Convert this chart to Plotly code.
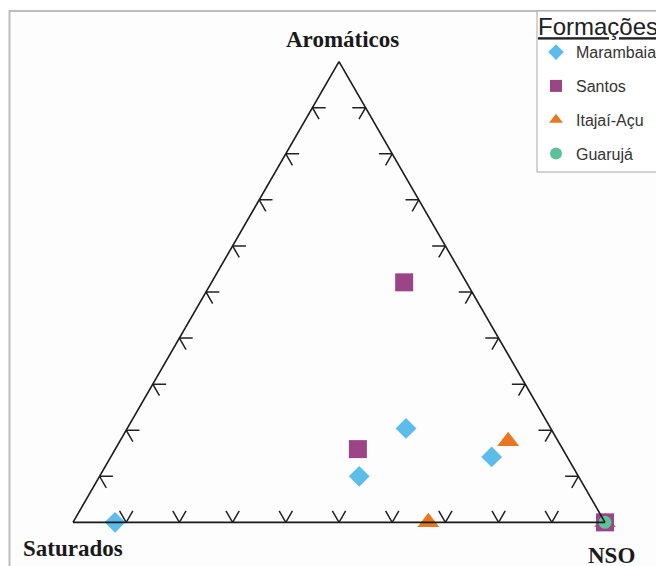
import plotly.graph_objects as go

OFF = 8  # page body margin in the browser
W, H = 664 - OFF, 566 - OFF


def px(x):
    return (x - OFF) / W


def py(y):
    return 1 - (y - OFF) / H


# ---- data (percent: a = Aromáticos, b = Saturados, c = NSO) ----
marambaia_a = [0.0, 20.4, 10.0, 14.2]
marambaia_b = [92.1, 27.2, 41.2, 14.2]
marambaia_c = [7.9, 52.4, 48.8, 71.6]

santos_a = [52.1, 15.9, 0.0]
santos_b = [11.7, 38.5, 0.0]
santos_c = [36.2, 45.6, 100.0]

itajai_a = [17.6, 0.0, 0.0]
itajai_b = [9.4, 33.2, 0.0]
itajai_c = [73.0, 66.8, 100.0]

guaruja_a = [0.0]
guaruja_b = [0.0]
guaruja_c = [100.0]

TICKS = [10, 20, 30, 40, 50, 60, 70, 80, 90]
TICK_LEN = 2.5

fig = go.Figure()


# V-shaped tick marks on the three edges, built from tick values
def add_ticks(kind):
    A, B, C = [], [], []
    L = TICK_LEN
    for t in TICKS:
        if kind == "left":      # c = 0
            pts = [(t, 100 - t - L, L), (t, 100 - t, 0), (t - L, 100 - t, L)]
        elif kind == "right":   # b = 0
            pts = [(t, L, 100 - t - L), (t, 0, 100 - t), (t - L, L, 100 - t)]
        else:                   # bottom, a = 0
            pts = [(L, 100 - t, t - L), (0, 100 - t, t), (L, 100 - t - L, t)]
        for p in pts:
            A.append(p[0]); B.append(p[1]); C.append(p[2])
        A.append(None); B.append(None); C.append(None)
    fig.add_trace(go.Scatterternary(
        a=A, b=B, c=C, mode="lines", line=dict(color="#222222", width=1.5),
        showlegend=False, hoverinfo="skip", cliponaxis=False))


for k in ("left", "right", "bottom"):
    add_ticks(k)

fig.add_trace(go.Scatterternary(
    a=marambaia_a, b=marambaia_b, c=marambaia_c, mode="markers", name="Marambaia",
    marker=dict(symbol="diamond", size=16, color="#5CBDEB"),
    legendgroup="g1", legendrank=1, cliponaxis=False))
fig.add_trace(go.Scatterternary(
    a=itajai_a, b=itajai_b, c=itajai_c, mode="markers", name="Itajaí-Açu",
    marker=dict(symbol="triangle-up", size=19, color="#E87722"),
    legendgroup="g3", legendrank=3, cliponaxis=False))
fig.add_trace(go.Scatterternary(
    a=santos_a, b=santos_b, c=santos_c, mode="markers", name="Santos",
    marker=dict(symbol="square", size=18, color="#9B4586"),
    legendgroup="g2", legendrank=2, cliponaxis=False))
fig.add_trace(go.Scatterternary(
    a=guaruja_a, b=guaruja_b, c=guaruja_c, mode="markers", name="Guarujá",
    marker=dict(symbol="circle", size=13, color="#5DC29B"),
    legendgroup="g4", legendrank=4, cliponaxis=False))

axis_style = dict(showline=True, linecolor="#1a1a1a", linewidth=1.6,
                  showgrid=False, ticks="", showticklabels=False, title=dict(text=""))

# triangle: base from x=73 to 605 at y=522 (reference pixels), centred in domain
cx, cy = 339, 292
fig.update_layout(
    width=W, height=H,
    margin=dict(l=0, r=0, t=0, b=0, autoexpand=False),
    paper_bgcolor="#FDFDFD",
    ternary=dict(
        sum=100,
        bgcolor="rgba(0,0,0,0)",
        domain=dict(x=[px(cx - 266), px(cx + 266)], y=[py(cy + 240), py(cy - 240)]),
        aaxis=axis_style, baxis=axis_style, caxis=axis_style,
    ),
    legend=dict(
        x=px(536), y=py(4), xanchor="left", yanchor="top",
        bgcolor="rgba(0,0,0,0)", borderwidth=0,
        font=dict(family="Liberation Sans, Arial, sans-serif", size=16, color="#333333"),
        title=dict(text="<u>Formações</u>",
                   font=dict(family="Liberation Sans, Arial, sans-serif", size=24, color="#222222")),
        itemsizing="constant", traceorder="grouped", tracegroupgap=10,
    ),
    shapes=[
        dict(type="rect", xref="paper", yref="paper", layer="below",
             x0=px(9.5), x1=1.1, y0=-0.1, y1=py(11),
             line=dict(color="#BDBDBD", width=2), fillcolor="rgba(0,0,0,0)"),
        dict(type="rect", xref="paper", yref="paper", layer="below",
             x0=px(537), x1=1.1, y0=py(172), y1=py(11),
             line=dict(color="#A8A8A8", width=1), fillcolor="white"),
    ],
)

serif = "Liberation Serif, Times New Roman, serif"
for txt, x, y in [("Aromáticos", 343, 39), ("Saturados", 73, 548), ("NSO", 611.5, 555)]:
    fig.add_annotation(text="<b>" + txt + "</b>", x=px(x), y=py(y), xref="paper", yref="paper",
                       xanchor="center", yanchor="middle", showarrow=False,
                       font=dict(family=serif, size=23, color="#1a1a1a"))

fig.write_html("out.html")
